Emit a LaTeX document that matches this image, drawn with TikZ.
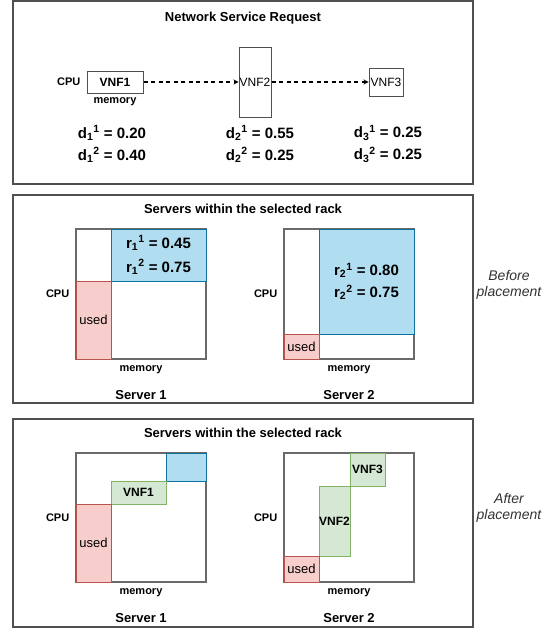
\documentclass[tikz,border=0pt]{standalone}
\usepackage{fontspec}
\setmainfont{Liberation Sans}
\usetikzlibrary{positioning,fit,arrows}
\definecolor{frame}{HTML}{505050}
\definecolor{freefill}{HTML}{B1DDF0}
\definecolor{freeline}{HTML}{10739E}
\definecolor{usedfill}{HTML}{F8CECC}
\definecolor{usedline}{HTML}{B85450}
\definecolor{vnffill}{HTML}{D5E8D4}
\definecolor{vnfline}{HTML}{82B366}
\begin{document}
\begin{tikzpicture}[x=1pt,y=-1pt,
          node distance=4pt,
          panel/.style={draw=frame,line width=1.2pt,inner sep=0pt},
          srv/.style={draw=frame!85,line width=1.1pt,inner sep=0pt},
          free/.style={draw=freeline,fill=freefill,line width=.8pt,inner sep=0pt},
          usedbox/.style={draw=usedline,fill=usedfill,line width=.8pt,inner sep=0pt},
          vnf/.style={draw=vnfline,fill=vnffill,line width=.8pt,inner sep=0pt},
          req/.style={draw=frame,line width=1pt,inner sep=0pt},
          txt/.style={inner sep=0pt,font=\fontsize{13}{15}\selectfont},
          vnftxt/.style={inner sep=0pt,font=\bfseries\fontsize{12}{14}\selectfont},
          restxt/.style={inner sep=0pt,align=center,font=\bfseries\fontsize{15}{24}\selectfont},
          lbl/.style={inner sep=1pt,font=\bfseries\fontsize{11}{13}\selectfont},
          ttl/.style={inner sep=1pt,font=\bfseries\fontsize{13}{15}\selectfont},
          dem/.style={inner sep=1pt,align=center,font=\bfseries\fontsize{15}{22}\selectfont},
          phase/.style={inner sep=1pt,align=center,text=black!80,font=\itshape\fontsize{14}{16}\selectfont},
          flow/.style={-stealth,line width=1.2pt,dash pattern=on 4pt off 3.5pt}
            ]
            \useasboundingbox (0,0) rectangle (552,629);
            % request
            \node[panel,fit={(13,1) (473,184)}] (reqp) {};
            \node[ttl] (reqt) at (243,18) {Network Service Request};
            \node[req,fit={(87,71) (143,93)}] (vnfa) {};
            \node[req,fit={(239,47) (271,117)}] (vnfb) {};
            \node[req,fit={(369,68) (403,96)}] (vnfc) {};
            \node[vnftxt] (vnfat) at (vnfa) {VNF1};
            \node[txt,font=\fontsize{12}{14}\selectfont] (vnfbt) at (vnfb) {VNF2};
            \node[txt,font=\fontsize{12}{14}\selectfont] (vnfct) at (vnfc) {VNF3};
            \node[lbl,left=5pt of vnfa] (cpur) {CPU};
            \node[lbl,below=3pt of vnfa] (memr) {memory};
            \draw[flow] (vnfa.east) -- (vnfb.west);
            \draw[flow] (vnfb.east) -- (vnfc.west);
            \node[dem] (da) at (112,144) {d\textsubscript{1}\textsuperscript{1} = 0.20\\d\textsubscript{1}\textsuperscript{2} = 0.40};
            \node[dem] (db) at (260,144) {d\textsubscript{2}\textsuperscript{1} = 0.55\\d\textsubscript{2}\textsuperscript{2} = 0.25};
            \node[dem] (dc) at (388,144) {d\textsubscript{3}\textsuperscript{1} = 0.25\\d\textsubscript{3}\textsuperscript{2} = 0.25};
            % before placement
            \node[panel,fit={(13,195) (473,403)}] (befp) {};
            \node[ttl] (beft) at (243,209) {Servers within the selected rack};
            \node[srv,fit={(76,229) (206,359)}] (srva) {};
            \node[free,fit={(111,229) (206,281)}] (fra) {};
            \node[restxt] (frat) at (fra) {r\textsubscript{1}\textsuperscript{1} = 0.45\\r\textsubscript{1}\textsuperscript{2} = 0.75};
            \node[usedbox,fit={(76,281) (111,359)}] (usa) {};
            \node[txt] (usat) at (usa) {used};
            \node[lbl,left=5pt of srva] (cpua) {CPU};
            \node[lbl,below=5pt of srva] (mema) {memory};
            \node[ttl,below=14pt of mema] (namea) {Server 1};
            \node[srv,fit={(284,229) (414,359)}] (srvb) {};
            \node[free,fit={(319,229) (414,334)}] (frb) {};
            \node[restxt,font=\bfseries\fontsize{15}{22}\selectfont] (frbt) at (frb) {r\textsubscript{2}\textsuperscript{1} = 0.80\\r\textsubscript{2}\textsuperscript{2} = 0.75};
            \node[usedbox,fit={(284,334) (319,359)}] (usb) {};
            \node[txt] (usbt) at (usb) {used};
            \node[lbl,left=5pt of srvb] (cpub) {CPU};
            \node[lbl,below=5pt of srvb] (memb) {memory};
            \node[ttl,below=14pt of memb] (nameb) {Server 2};
            \node[phase] (bef) at (509,285) {Before\\placement};
            % after placement
            \node[panel,fit={(13,419) (473,627)}] (aftp) {};
            \node[ttl] (aftt) at (243,433) {Servers within the selected rack};
            \node[srv,fit={(76,453) (206,582)}] (srvc) {};
            \node[free,fit={(166,453) (206,481)}] (frc) {};
            \node[vnf,fit={(111,481) (166,504)}] (pla) {};
            \node[vnftxt] (plat) at (pla) {VNF1};
            \node[usedbox,fit={(76,504) (111,582)}] (usc) {};
            \node[txt] (usct) at (usc) {used};
            \node[lbl,left=5pt of srvc] (cpuc) {CPU};
            \node[lbl,below=5pt of srvc] (memc) {memory};
            \node[ttl,below=14pt of memc] (namec) {Server 1};
            \node[srv,fit={(284,453) (414,582)}] (srvd) {};
            \node[vnf,fit={(350,453) (385,486)}] (plc) {};
            \node[vnftxt] (plct) at (plc) {VNF3};
            \node[vnf,fit={(319,486) (350,556)}] (plb) {};
            \node[vnftxt] (plbt) at (plb) {VNF2};
            \node[usedbox,fit={(284,556) (319,582)}] (usd) {};
            \node[txt] (usdt) at (usd) {used};
            \node[lbl,left=5pt of srvd] (cpud) {CPU};
            \node[lbl,below=5pt of srvd] (memd) {memory};
            \node[ttl,below=14pt of memd] (named) {Server 2};
            \node[phase] (aft) at (509,508) {After\\placement};
\end{tikzpicture}
\end{document}
